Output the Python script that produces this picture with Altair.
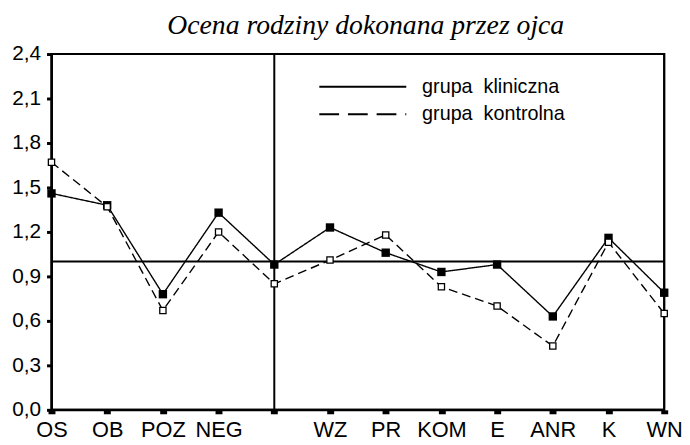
import altair as alt
import pandas as pd

# ---- data ----
categories = ["OS", "OB", "POZ", "NEG", " ", "WZ", "PR", "KOM", "E", "ANR", "K", "WN"]
klin = [1.46, 1.38, 0.78, 1.33, 0.98, 1.23, 1.06, 0.93, 0.98, 0.63, 1.16, 0.79]
kontr = [1.67, 1.37, 0.67, 1.20, 0.85, 1.01, 1.18, 0.83, 0.70, 0.43, 1.13, 0.65]
groups = ["grupa\u00a0 kliniczna", "grupa\u00a0 kontrolna"]
y_ticks = [0.0, 0.3, 0.6, 0.9, 1.2, 1.5, 1.8, 2.1, 2.4]
ref_value = [1.0]
divider = [" "]
title_text = ["Ocena rodziny dokonana przez ojca"]

rows = []
for g, vals in zip(groups, [klin, kontr]):
    for c, v in zip(categories, vals):
        rows.append({"kat": c, "wartosc": v, "grupa": g})
df = pd.DataFrame(rows)

FONT = "Liberation Sans"

x_enc = alt.X(
    "kat:N",
    sort=categories,
    scale=alt.Scale(type="point", padding=0),
    axis=alt.Axis(
        title=None,
        labelAngle=0,
        labelAlign="center",
        labelBaseline="top",
        labelFont=FONT,
        labelFontSize=22,
        labelColor="black",
        labelPadding=6,
        tickSize=4,
        tickWidth=7,
        tickColor="black",
        domainColor="black",
        domainWidth=2,
        labelOverlap=False,
        labelFlush=False,
        labelBound=False,
    ),
)
y_enc = alt.Y(
    "wartosc:Q",
    scale=alt.Scale(domain=[0, 2.4], nice=False, zero=True),
    axis=alt.Axis(
        title=None,
        values=y_ticks,
        labelExpr="replace(format(datum.value, '.1f'), '.', ',')",
        labelFont=FONT,
        labelFontSize=21,
        labelColor="black",
        labelPadding=6,
        tickSize=5,
        tickWidth=3,
        tickColor="black",
        domainColor="black",
        domainWidth=2,
        grid=False,
    ),
)

base = alt.Chart(df).encode(x=x_enc, y=y_enc)

lines = base.mark_line(color="black", strokeWidth=1.4).encode(
    detail="grupa:N",
    strokeDash=alt.condition(
        alt.datum.grupa == groups[1], alt.value([9, 5]), alt.value([1, 0])
    ),
)

pts_klin = base.transform_filter(alt.datum.grupa == groups[0]).mark_square(
    size=72, color="black", filled=True, opacity=1
)
pts_kontr = base.transform_filter(alt.datum.grupa == groups[1]).mark_square(
    size=40, fill="white", stroke="black", strokeWidth=1.3, filled=True, opacity=1
)

legend_layer = (
    base.transform_filter(alt.datum.kat == categories[0])
    .mark_line(color="black", strokeWidth=2)
    .encode(
        strokeDash=alt.StrokeDash(
            "grupa:N",
            scale=alt.Scale(domain=groups, range=[[1, 0], [20, 9]]),
            legend=alt.Legend(
                title=None,
                orient="none",
                legendX=270,
                legendY=19,
                symbolType="stroke",
                symbolSize=7744,
                symbolStrokeWidth=2,
                symbolStrokeColor="black",
                labelFont=FONT,
                labelFontSize=20,
                labelColor="black",
                labelOffset=15,
                clipHeight=28,
                rowPadding=0,
                padding=0,
            ),
        )
    )
)

hline = (
    alt.Chart(pd.DataFrame({"wartosc": ref_value}))
    .mark_rule(color="black", strokeWidth=2)
    .encode(y=alt.Y("wartosc:Q"))
)
vline = (
    alt.Chart(pd.DataFrame({"kat": divider}))
    .mark_rule(color="black", strokeWidth=2)
    .encode(x=alt.X("kat:N", sort=categories))
)

frame = (
    alt.Chart(pd.DataFrame({"f": [0]}))
    .mark_rect(filled=False, stroke="black", strokeWidth=2, fill=None)
    .encode(
        x=alt.value(0),
        x2=alt.value("width"),
        y=alt.value(0),
        y2=alt.value("height"),
    )
)

title = (
    alt.Chart(pd.DataFrame({"t": title_text}))
    .mark_text(
        font="Liberation Serif",
        fontStyle="italic",
        fontSize=28,
        color="black",
        align="center",
        baseline="alphabetic",
        clip=False,
    )
    .encode(text="t:N", x=alt.value(318), y=alt.value(-20))
)

chart = (
    alt.layer(frame, hline, vline, lines, legend_layer, pts_klin, pts_kontr, title)
    .properties(
        width=620,
        height=360,
        background="white",
        autosize=alt.AutoSizeParams(type="none"),
        padding={"left": 44, "top": 44, "right": 18, "bottom": 33},
    )
    .configure_view(stroke="black", strokeWidth=2)
)

chart.save("out.html", embed_options={"renderer": "svg", "actions": False})
